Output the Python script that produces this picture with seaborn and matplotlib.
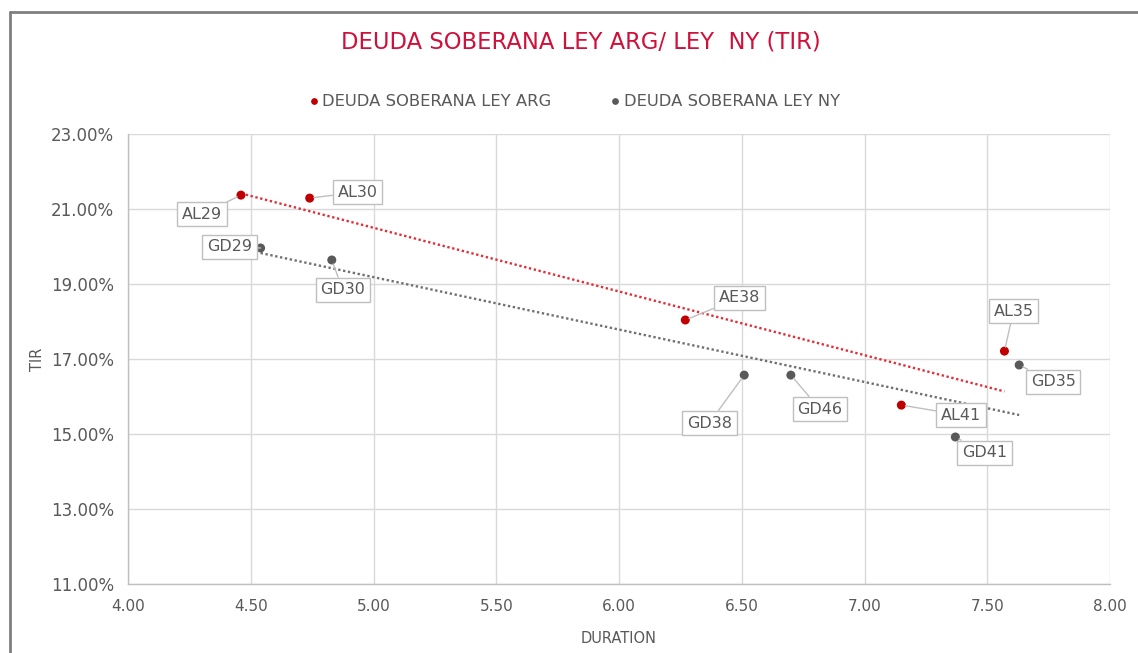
import matplotlib.pyplot as plt
import matplotlib.lines as mlines
import seaborn as sns
import pandas as pd
import numpy as np

# Bond data (duration, TIR in %)
arg_names = ["AL29", "AL30", "AE38", "AL41", "AL35"]
arg_duration = [4.46, 4.74, 6.27, 7.15, 7.57]
arg_tir = [21.37, 21.29, 18.04, 15.77, 17.21]

ny_names = ["GD29", "GD30", "GD38", "GD46", "GD41", "GD35"]
ny_duration = [4.54, 4.83, 6.51, 6.70, 7.37, 7.63]
ny_tir = [19.96, 19.64, 16.57, 16.57, 14.92, 16.84]

label_arg = "DEUDA SOBERANA LEY ARG"
label_ny = "DEUDA SOBERANA LEY NY"

# label offsets in pixels (box centre relative to point)
offsets = {
    "AL29": (-39, -19), "AL30": (48, 6), "AE38": (54, 22), "AL41": (60, -10),
    "AL35": (9, 40), "GD29": (-31, 1), "GD30": (11, -30), "GD38": (-35, -48),
    "GD46": (29, -34), "GD41": (29, -16), "GD35": (34, -17),
}

df = pd.DataFrame({
    "name": arg_names + ny_names,
    "duration": arg_duration + ny_duration,
    "tir": arg_tir + ny_tir,
    "serie": [label_arg] * len(arg_names) + [label_ny] * len(ny_names),
})

sns.set_style("whitegrid")
plt.rcParams['font.family'] = ['DejaVu Sans']
red = "#C00000"
gray = "#595959"
txt = "#595959"

fig = plt.figure(figsize=(11.38, 6.53), dpi=100)
ax = fig.add_axes([0.1125, 0.1057, 0.8629, 0.6891])

sns.scatterplot(data=df, x="duration", y="tir", hue="serie",
                palette={label_arg: red, label_ny: gray},
                s=42, edgecolor="none", ax=ax, zorder=5)

# linear trendlines
for xs, ys, c in [(arg_duration, arg_tir, "#E0303A"), (ny_duration, ny_tir, "#707070")]:
    m, b = np.polyfit(xs, ys, 1)
    xx = np.array([min(xs), max(xs)])
    ax.plot(xx, m * xx + b, linestyle=(0, (1, 1.1)), color=c, linewidth=1.7, zorder=4)

for _, r in df.iterrows():
    ax.annotate(r["name"], xy=(r["duration"], r["tir"]),
                xytext=offsets[r["name"]], textcoords="offset pixels",
                ha="center", va="center", fontsize=11.5, color=txt,
                bbox=dict(boxstyle="square,pad=0.3", fc="white", ec="#BFBFBF", lw=1),
                arrowprops=dict(arrowstyle="-", color="#BFBFBF", lw=1, shrinkA=0, shrinkB=3),
                zorder=6)

ax.set_xlim(4, 8)
ax.set_ylim(11, 23)
ax.set_xticks(np.arange(4, 8.01, 0.5))
ax.set_yticks(np.arange(11, 23.01, 2))
ax.set_xticklabels([f"{v:.2f}" for v in np.arange(4, 8.01, 0.5)])
ax.set_yticklabels([f"{v:.2f}%" for v in np.arange(11, 23.01, 2)])
ax.tick_params(colors=txt, length=0)
ax.tick_params(axis="x", pad=11, labelsize=11)
ax.tick_params(axis="y", pad=10, labelsize=12)
ax.grid(True, color="#D9D9D9", linewidth=1)
for side in ["top", "right"]:
    ax.spines[side].set_visible(False)
for side in ["left", "bottom"]:
    ax.spines[side].set_color("#BFBFBF")
    ax.spines[side].set_linewidth(1)

ax.set_xlabel("DURATION", color=txt, fontsize=10.5, labelpad=12)
ax.set_ylabel("TIR", color=txt, fontsize=10.5, labelpad=4)

ax.legend(loc="lower center", bbox_to_anchor=(0.453, 1.04), ncol=2, frameon=False,
          fontsize=11.8, labelcolor=txt, handletextpad=0.0, handlelength=1.0,
          columnspacing=3.4, markerscale=0.75, borderaxespad=0)

fig.text(0.51, 0.935, "DEUDA SOBERANA LEY ARG/ LEY  NY (TIR)", ha="center", va="center",
         fontsize=16.3, color="#D0103A")

# outer frame (left and top edges)
fig.add_artist(mlines.Line2D([10 / 1138, 10 / 1138], [0, 1 - 12 / 653], color="#7F7F7F",
                             lw=2, transform=fig.transFigure))
fig.add_artist(mlines.Line2D([10 / 1138, 1], [1 - 12 / 653, 1 - 12 / 653], color="#7F7F7F",
                             lw=2, transform=fig.transFigure))

fig.savefig("out.png", dpi=100)
